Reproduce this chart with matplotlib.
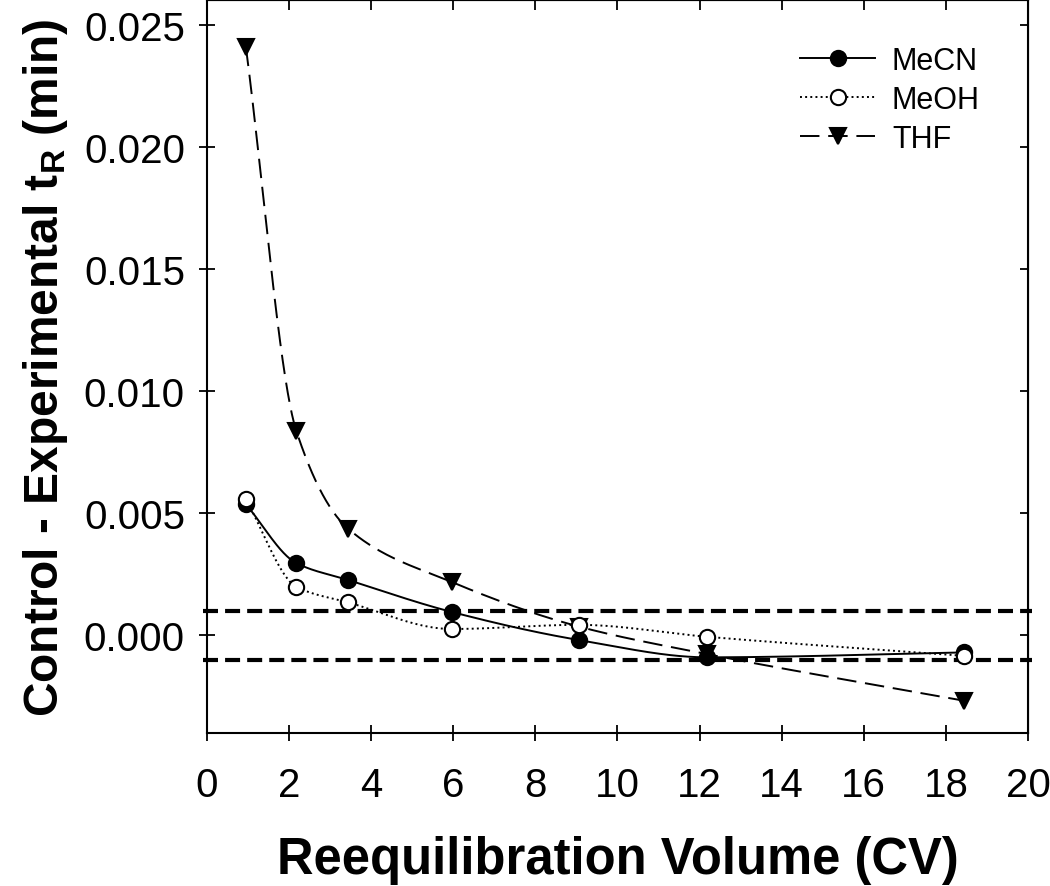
import matplotlib
matplotlib.use("Agg")
import matplotlib.pyplot as plt
import numpy as np

plt.rcParams['font.family'] = ['Liberation Sans', 'DejaVu Sans']
plt.rcParams['mathtext.fontset'] = 'custom'
plt.rcParams['mathtext.rm'] = 'Liberation Sans:bold'
plt.rcParams['mathtext.default'] = 'rm'

# reequilibration volume (CV) and retention time differences (min)
volume_cv = [0.95, 2.18, 3.44, 5.96, 9.06, 12.19, 18.45]
mecn = [0.00536, 0.00295, 0.00226, 0.00095, -0.00020, -0.00091, -0.00071]
meoh = [0.00556, 0.00198, 0.00134, 0.00025, 0.00042, -0.00007, -0.00085]
thf = [0.02410, 0.00836, 0.00436, 0.00218, 0.00035, -0.00078, -0.00269]
tolerance = [0.001, -0.001]
x_ticks = [0, 2, 4, 6, 8, 10, 12, 14, 16, 18, 20]
y_ticks = [0.000, 0.005, 0.010, 0.015, 0.020, 0.025]


def pchip_curve(x, y, n=60):
    """Monotone cubic line through the points (like the smoothed SigmaPlot line)."""
    x = np.asarray(x, float)
    y = np.asarray(y, float)
    h = np.diff(x)
    d = np.diff(y) / h
    m = np.zeros_like(y)
    for k in range(1, len(x) - 1):
        if d[k - 1] * d[k] > 0:
            w1 = 2 * h[k] + h[k - 1]
            w2 = h[k] + 2 * h[k - 1]
            m[k] = (w1 + w2) / (w1 / d[k - 1] + w2 / d[k])
    m[0] = d[0]
    m[-1] = d[-1]
    xs, ys = [], []
    for k in range(len(x) - 1):
        t = np.linspace(0, 1, n)
        h00 = 2 * t**3 - 3 * t**2 + 1
        h10 = t**3 - 2 * t**2 + t
        h01 = -2 * t**3 + 3 * t**2
        h11 = t**3 - t**2
        xs.append(x[k] + t * h[k])
        ys.append(h00 * y[k] + h10 * h[k] * m[k] + h01 * y[k + 1] + h11 * h[k] * m[k + 1])
    return np.concatenate(xs), np.concatenate(ys)


fig = plt.figure(figsize=(10.5, 8.87), dpi=100)
ax = fig.add_axes([0.197, 0.1725, 0.782, 0.8265])

series = [
    ("MeCN", mecn, "-", "black", "o", 3),
    ("MeOH", meoh, ":", "white", "o", 5),
    ("THF", thf, (0, (10, 4.5)), "black", "v", 4),
]
for name, vals, ls, mfc, mk, z in series:
    cx, cy = pchip_curve(volume_cv, vals)
    ax.plot(cx, cy, color="black", linestyle=ls, linewidth=1.4, zorder=z)
    ax.plot(volume_cv, vals, linestyle="none", marker=mk, markersize=11,
            markerfacecolor=mfc, markeredgecolor="black", markeredgewidth=1.5, zorder=z)

for yv in tolerance:
    ax.axhline(yv, xmin=-0.005, xmax=1.005, color="black", linewidth=3,
               linestyle=(0, (3.6, 1.7)), clip_on=False, zorder=2)

# legend handles
handles = []
for name, vals, ls, mfc, mk, z in series:
    h, = ax.plot([], [], color="black", linestyle=ls, linewidth=1.4, marker=mk,
                 markersize=11, markerfacecolor=mfc, markeredgecolor="black",
                 markeredgewidth=1.5)
    handles.append(h)
ax.legend(handles, [s[0] for s in series], loc="upper right", frameon=False,
          fontsize=22, handlelength=2.45, handletextpad=0.55, labelspacing=0.3,
          bbox_to_anchor=(0.975, 0.975), numpoints=1)

ax.set_xlim(0, 20)
ax.set_ylim(-0.00401, 0.02602)
ax.set_xticks(x_ticks)
ax.set_yticks(y_ticks)
ax.set_yticklabels([f"{v:.3f}" for v in y_ticks])

for sp in ax.spines.values():
    sp.set_linewidth(1.5)

ax.tick_params(axis="x", which="major", direction="inout", length=12, width=1.3,
               labelsize=29, pad=18, top=False)
ax.tick_params(axis="y", which="major", direction="inout", length=11.5, width=1.3,
               labelsize=29, pad=10)

sec_top = ax.secondary_xaxis("top")
sec_top.set_xticks(x_ticks)
sec_top.tick_params(direction="in", length=7, width=1.3, labeltop=False)
sec_right = ax.secondary_yaxis("right")
sec_right.set_yticks(y_ticks)
sec_right.tick_params(direction="in", length=6, width=1.3, labelright=False)

ax.set_xlabel("Reequilibration Volume (CV)", fontsize=36.5, fontweight="bold", labelpad=22)
ax.set_ylabel(r"Control - Experimental t$_{R}$ (min)", fontsize=34.5, fontweight="bold",
              labelpad=10)

fig.savefig("out.png", dpi=100)
